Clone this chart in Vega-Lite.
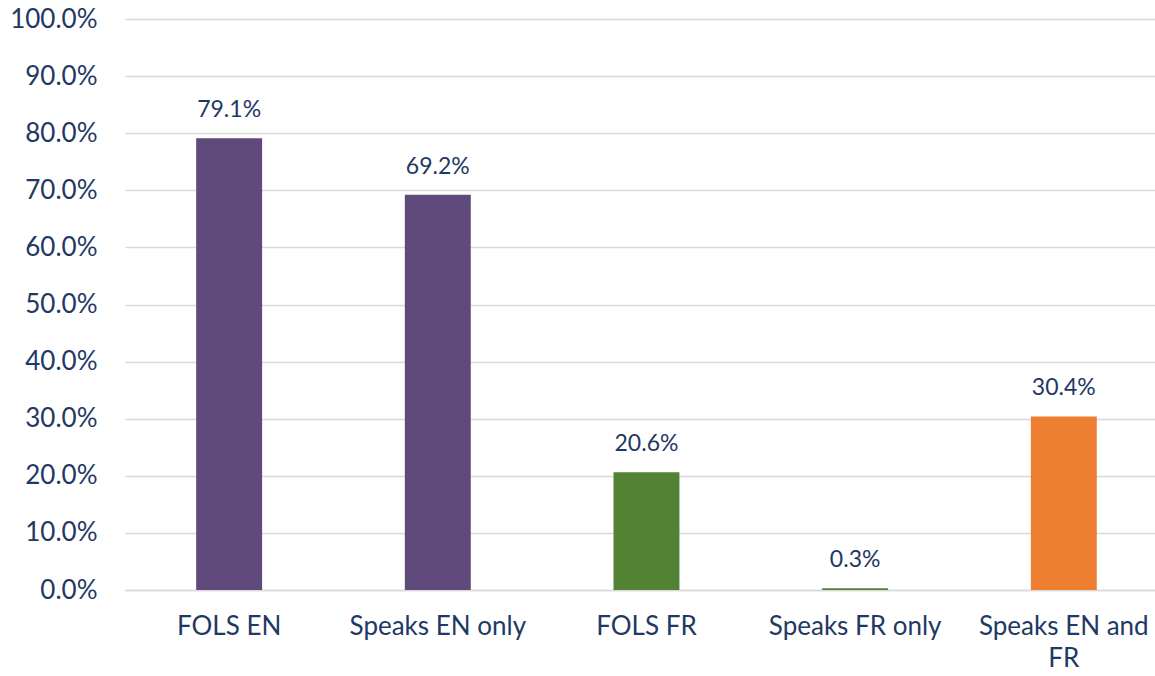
{
  "$schema": "https://vega.github.io/schema/vega-lite/v6.json",
  "width": 1030,
  "height": 571,
  "autosize": {"type": "none"},
  "padding": {"left": 125, "top": 19, "right": 0, "bottom": 86},
  "background": "white",
  "config": {"view": {"stroke": null}, "font": "Lato"},
  "data": {
    "values": [
      {"category": "FOLS EN", "value": 0.791, "color": "#604A7B"},
      {"category": "Speaks EN only", "value": 0.692, "color": "#604A7B"},
      {"category": "FOLS FR", "value": 0.206, "color": "#548235"},
      {"category": "Speaks FR only", "value": 0.003, "color": "#548235"},
      {"category": "Speaks EN and FR", "value": 0.304, "color": "#ED7D31"}
    ]
  },
  "encoding": {
    "x": {
      "field": "category",
      "type": "nominal",
      "sort": null,
      "scale": {"paddingInner": 0.684, "paddingOuter": 0.31, "align": 0.55},
      "axis": {
        "title": null,
        "labelAngle": 0,
        "labelFontSize": 26,
        "labelColor": "#1F3864",
        "labelFont": "Lato",
        "labelPadding": 23,
        "labelLineHeight": 32,
        "labelBaseline": "top",
        "ticks": false,
        "domainColor": "#D9D9D9",
        "domainWidth": 1.5,
        "labelExpr": "datum.label == 'Speaks EN and FR' ? ['Speaks EN and', 'FR'] : datum.label"
      }
    },
    "y": {
      "field": "value",
      "type": "quantitative",
      "scale": {"domain": [0, 1], "nice": false},
      "axis": {
        "title": null,
        "format": ".1%",
        "values": [0, 0.1, 0.2, 0.3, 0.4, 0.5, 0.6, 0.7, 0.8, 0.9, 1.0],
        "labelFontSize": 26,
        "labelColor": "#1F3864",
        "labelFont": "Lato",
        "labelPadding": 28,
        "ticks": false,
        "domain": false,
        "gridColor": "#D9D9D9",
        "gridWidth": 1.5
      }
    }
  },
  "layer": [
    {
      "mark": {"type": "bar"},
      "encoding": {
        "color": {"field": "color", "type": "nominal", "scale": null}
      }
    },
    {
      "mark": {"type": "text", "baseline": "alphabetic", "dy": -21, "fontSize": 23, "color": "#1F3864", "font": "Lato"},
      "encoding": {
        "text": {"field": "value", "type": "quantitative", "format": ".1%"}
      }
    }
  ]
}
